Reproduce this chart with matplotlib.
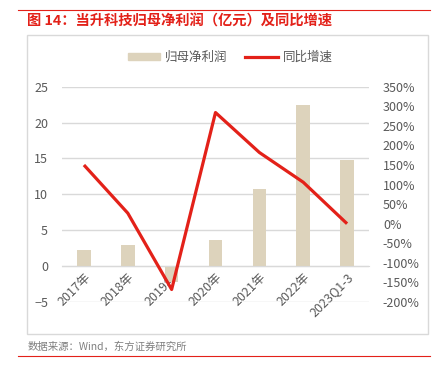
import matplotlib
matplotlib.use("Agg")
import matplotlib.pyplot as plt
from matplotlib.lines import Line2D
from matplotlib.patches import Rectangle

plt.rcParams['font.family'] = ['Noto Sans CJK SC', 'DejaVu Sans']

categories = ["2017年", "2018年", "2019年", "2020年", "2021年", "2022年", "2023Q1-3"]
profit = [2.3, 3.0, -2.2, 3.7, 10.8, 22.5, 14.8]
growth = [150, 27, -168, 284, 182, 106, 0]
left_ticks = [-5, 0, 5, 10, 15, 20, 25]
right_ticks = [-200, -150, -100, -50, 0, 50, 100, 150, 200, 250, 300, 350]

W, H = 436, 378
fig = plt.figure(figsize=(W / 100, H / 100), dpi=100)

def fx(px):
    return px / W

def fy(py):
    return 1 - py / H

bar_color = '#ddd3bc'
line_color = '#e32119'
grid_color = '#d9d9d9'
text_color = '#595959'

ax = fig.add_axes([fx(62), fy(302), fx(369) - fx(62), fy(86.7) - fy(302)])
ax2 = ax.twinx()

x = list(range(len(categories)))
ax.bar(x, profit, width=0.31, color=bar_color, zorder=2)
ax.set_ylim(-5, 25)
ax.set_yticks(left_ticks)
ax.set_xlim(-0.5, len(categories) - 0.5)
ax.grid(axis='y', color=grid_color, linewidth=1, zorder=0)
ax.set_axisbelow(True)
for s in ['top', 'right', 'left']:
    ax.spines[s].set_visible(False)
ax.spines['bottom'].set_position(('data', 0))
ax.spines['bottom'].set_color(grid_color)
ax.tick_params(axis='y', length=0, pad=10, labelsize=9, labelcolor=text_color)
ax.tick_params(axis='x', length=0, pad=3, labelsize=9, labelcolor=text_color)
ax.set_xticks(x)
ax.set_xticklabels(categories, rotation=45, ha='right', va='top', rotation_mode='anchor')

ax2.plot(x, growth, color=line_color, linewidth=2.3, zorder=5, solid_capstyle='butt')
ax2.set_ylim(-200, 350)
ax2.set_yticks(right_ticks)
ax2.set_yticklabels([f"{v}%" for v in right_ticks])
for s in ['top', 'right', 'left', 'bottom']:
    ax2.spines[s].set_visible(False)
ax2.tick_params(axis='y', length=0, pad=10, labelsize=9, labelcolor=text_color)

# chart border
fig.patches.append(Rectangle((fx(27), fy(333.5)), fx(427.5) - fx(27), fy(35) - fy(333.5),
                             transform=fig.transFigure, fill=False, edgecolor='#d9d9d9', linewidth=1))

# top / bottom red rules
fig.add_artist(Line2D([fx(18), fx(430)], [fy(10), fy(10)], color='#e32119', linewidth=0.8))
fig.add_artist(Line2D([fx(18), fx(430)], [fy(356), fy(356)], color='#e32119', linewidth=0.8))

fig.text(fx(27), fy(22), "图 14：当升科技归母净利润（亿元）及同比增速", color='#e32119',
         fontsize=10.3, fontweight='bold', ha='left', va='center')
fig.text(fx(28), fy(347), "数据来源：Wind，东方证券研究所", color='#7f7f7f',
         fontsize=7.5, ha='left', va='center')

# legend
handles = [Rectangle((0, 0), 1, 1, color=bar_color), Line2D([0], [0], color=line_color, linewidth=2.3)]
leg = fig.legend(handles, ["归母净利润", "同比增速"], loc='center', bbox_to_anchor=(fx(230), fy(57)),
                 ncol=2, frameon=False, fontsize=9, handlelength=2.6, handleheight=0.5,
                 columnspacing=1.4, handletextpad=0.4)
for t in leg.get_texts():
    t.set_color(text_color)

fig.savefig("out.png", dpi=100)
